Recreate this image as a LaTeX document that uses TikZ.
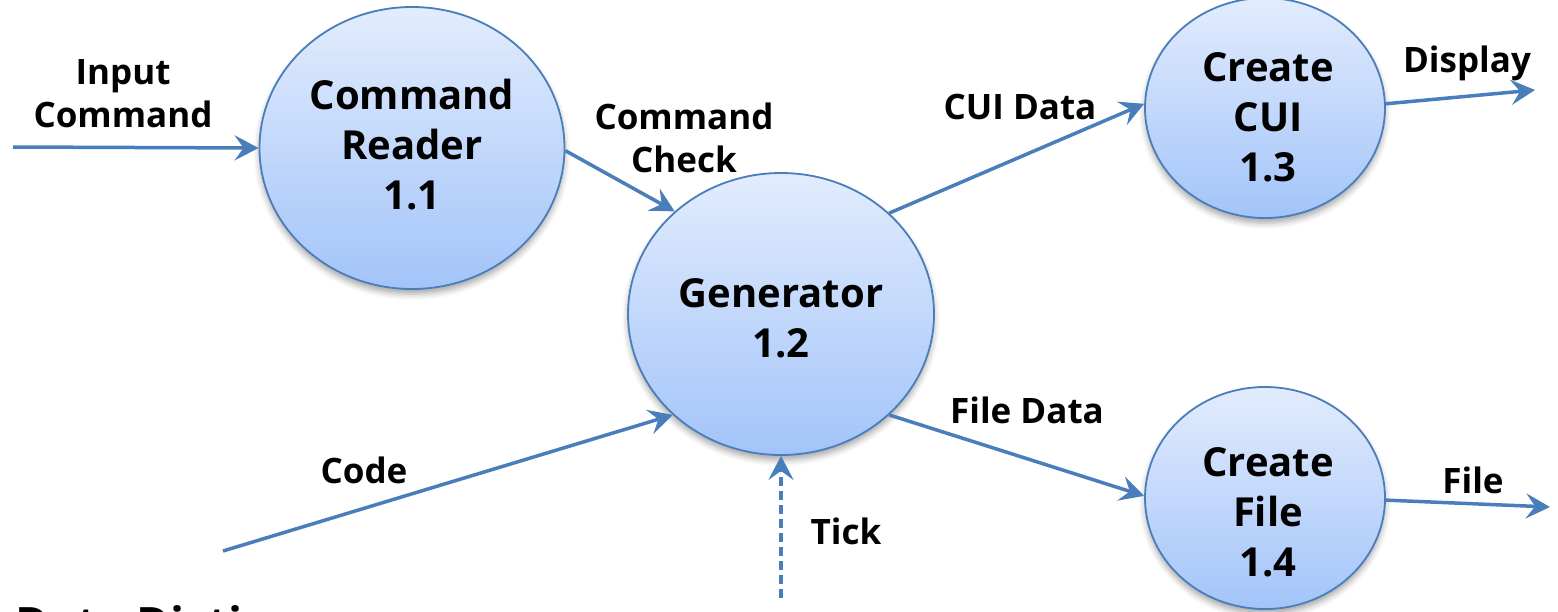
\documentclass[tikz,border=0pt]{standalone}
\usepackage{fontspec}
\setmainfont{Open Sans}
\usetikzlibrary{shapes.geometric,arrows.meta,shadows.blur}

\definecolor{flowblue}{RGB}{74,126,187}
\definecolor{bubtop}{RGB}{226,236,253}
\definecolor{bubbot}{RGB}{163,196,249}

\tikzset{
  process/.style={ellipse, draw=flowblue, line width=1.8pt, inner sep=0pt,
    top color=bubtop, bottom color=bubbot,
    blur shadow={shadow xshift=0pt, shadow yshift=-5pt, shadow blur radius=6pt, shadow opacity=35}},
  proctext/.style={align=center, font=\fontsize{40}{50}\selectfont\bfseries},
  flowlabel/.style={align=center, font=\fontsize{35}{43}\selectfont\bfseries},
  flow/.style={draw=flowblue, line width=3.5pt,
    -{Stealth[length=24pt, width=25pt, inset=9pt]}},
  timing/.style={flow, dash pattern=on 9pt off 5pt},
}

\begin{document}
\begin{tikzpicture}[x=1pt, y=-1pt]
  \path[use as bounding box, clip] (0,0) rectangle (1558,611);

  % process bubbles
  \node[process, minimum width=305pt, minimum height=282pt] (p11) at (412,148) {};
  \node[process, minimum width=306pt, minimum height=282pt] (p12) at (781,314) {};
  \node[process, minimum width=240pt, minimum height=220pt] (p13) at (1265,108) {};
  \node[process, minimum width=240pt, minimum height=222pt] (p14) at (1265,498) {};

  \node[proctext] (t11) at (412,145) {Command\\Reader\\1.1};
  \node[proctext] (t12) at (781,318) {Generator\\1.2};
  \node[proctext] (t13) at (1268,117) {Create\\CUI\\1.3};
  \node[proctext] (t14) at (1268,512) {Create\\File\\1.4};

  % free ends of the external flows
  \coordinate (src) at (13,147);
  \coordinate (code) at (223,551);
  \coordinate (tick) at (781,598);
  \coordinate (disp) at (1535,90);
  \coordinate (file) at (1550,507);

  % data flows
  \draw[flow] (src) -- (p11.180);
  \draw[flow] (p11.-1) -- (p12.136.6);
  \draw[flow] (p12.43.3) -- (p13.178);
  \draw[flow] (p13.2) -- (disp);
  \draw[flow] (p12.-43.3) -- (p14.179.5);
  \draw[flow] (p14.-1) -- (file);
  \draw[flow] (code) -- (p12.223.1);
  \draw[timing] (tick) -- (p12.south);

  % flow labels
  \node[flowlabel] (lin) at (123,94) {Input\\Command};
  \node[flowlabel] (lchk) at (684,138) {Command\\Check};
  \node[flowlabel] (lcui) at (1020,107) {CUI Data};
  \node[flowlabel] (ldisp) at (1467,63) {Display};
  \node[flowlabel] (lfd) at (1027,410) {File Data};
  \node[flowlabel] (lfile) at (1473,480) {File};
  \node[flowlabel] (lcode) at (364,470) {Code};
  \node[flowlabel] (ltick) at (846,531) {Tick};

  % heading running off the lower edge
  \node[anchor=base west, inner sep=0pt, font=\fontsize{46}{55}\selectfont\bfseries] (dd) at (15,640) {Data Dictionary};
\end{tikzpicture}
\end{document}
